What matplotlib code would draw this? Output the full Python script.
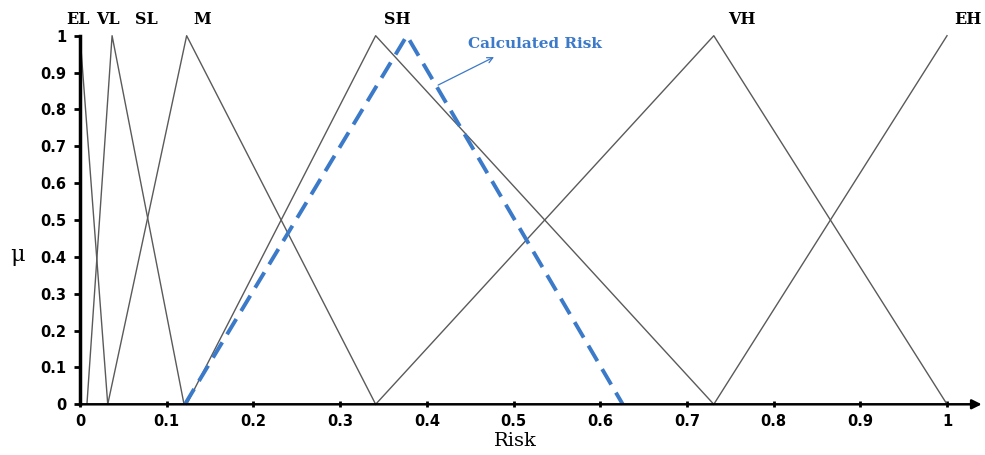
import matplotlib
matplotlib.use("Agg")
import matplotlib.pyplot as plt
import numpy as np

# membership functions (risk value, mu)
el_x = [0.0, 0.032]
el_y = [1.0, 0.0]
vl_x = [0.008, 0.037, 0.12]
vl_y = [0.0, 1.0, 0.0]
m_x = [0.032, 0.123, 0.341]
m_y = [0.0, 1.0, 0.0]
sh_x = [0.123, 0.341, 0.731]
sh_y = [0.0, 1.0, 0.0]
vh_x = [0.341, 0.731, 1.0]
vh_y = [0.0, 1.0, 0.0]
eh_x = [0.731, 1.0]
eh_y = [0.0, 1.0]

# calculated risk
calc_x = [0.121, 0.377, 0.626]
calc_y = [0.0, 1.0, 0.0]

set_names = ["EL", "VL", "SL", "M", "SH", "VH", "EH"]
ticks = [0, 0.1, 0.2, 0.3, 0.4, 0.5, 0.6, 0.7, 0.8, 0.9, 1]
tick_labels = ["0", "0.1", "0.2", "0.3", "0.4", "0.5", "0.6", "0.7", "0.8", "0.9", "1"]

serif = "DejaVu Serif"
sans = "DejaVu Sans"
gray = "#5a5a5a"
blue = "#3b79c9"

fig = plt.figure(figsize=(9.85, 4.55), dpi=100)
ax = fig.add_axes([80 / 985, 50.7 / 455, 901.7 / 985, 368.6 / 455])
ax.set_xlim(0, 1.04)
ax.set_ylim(0, 1)

for xs, ys in [(el_x, el_y), (vl_x, vl_y), (m_x, m_y), (sh_x, sh_y),
               (vh_x, vh_y), (eh_x, eh_y)]:
    ax.plot(xs, ys, color=gray, linewidth=1.0, clip_on=False)

ax.plot(calc_x, calc_y, color=blue, linewidth=2.8, linestyle=(0, (4.6, 2.4)),
        clip_on=False, zorder=3)

# set names above the peaks
label_x = [-0.002, 0.032, 0.077, 0.141, 0.366, 0.763, 1.024]
for name, lx in zip(set_names, label_x):
    ax.text(lx, 1.043, name, ha="center", va="center", fontsize=11.5,
            fontweight="bold", family=serif, clip_on=False)

# calculated risk annotation
ax.annotate("", xy=(0.4775, 0.942), xytext=(0.413, 0.866),
            arrowprops=dict(arrowstyle="->", color=blue, lw=0.9,
                            shrinkA=0, shrinkB=0))
ax.text(0.525, 0.977, "Calculated Risk", ha="center", va="center",
        fontsize=11, fontweight="bold", color=blue, family=serif)

# axes styling
for side in ["top", "right", "bottom"]:
    ax.spines[side].set_visible(False)
ax.spines["left"].set_linewidth(2.5)
ax.annotate("", xy=(1.04, 0), xytext=(0, 0),
            arrowprops=dict(arrowstyle="-|>", color="black", lw=1.8,
                            mutation_scale=14, shrinkA=0, shrinkB=0),
            annotation_clip=False)

ax.set_xticks(ticks)
ax.set_xticklabels(tick_labels)
ax.set_yticks(ticks)
ax.set_yticklabels(tick_labels)
ax.tick_params(axis="both", length=4, width=2, labelsize=10.5, color="black")
ax.tick_params(axis="x", direction="inout", pad=5)
ax.tick_params(axis="y", direction="out", pad=6)
for lab in ax.get_xticklabels() + ax.get_yticklabels():
    lab.set_fontweight("bold")
    lab.set_family(sans)

fig.text(17 / 985, 1 - 255 / 455, "μ", ha="center", va="center",
         fontsize=16, family=serif)
fig.text(515 / 985, 1 - 441 / 455, "Risk", ha="center", va="center",
         fontsize=14, family=serif)

fig.savefig("out.png", dpi=100)
